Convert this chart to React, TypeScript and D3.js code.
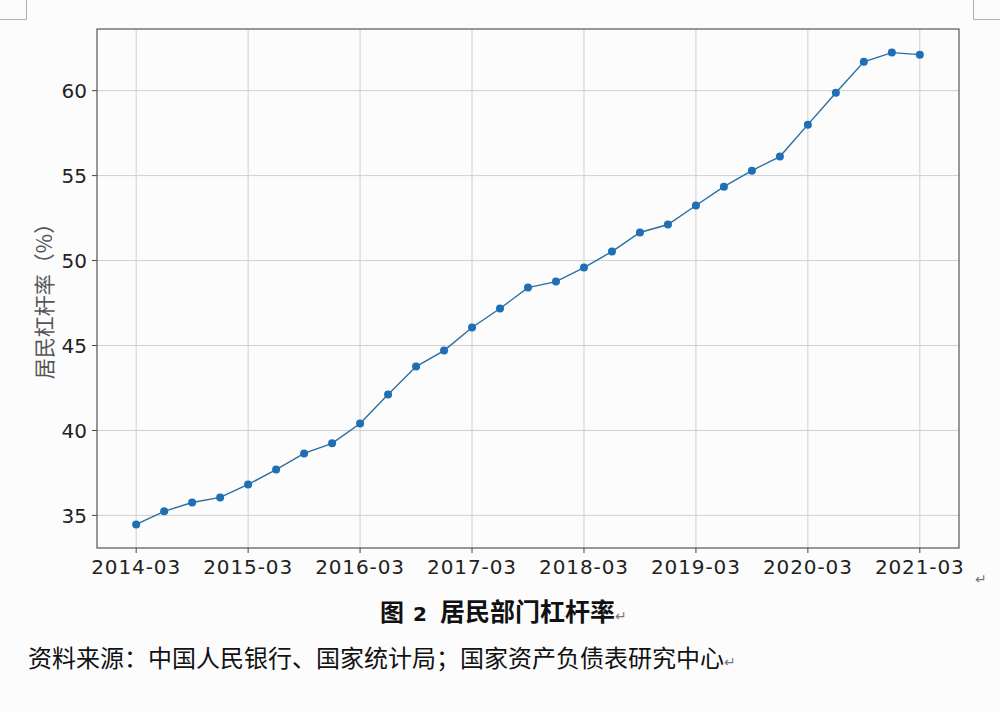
import React from "react";
import * as d3 from "d3";

const quarters = [
  "2014-03","2014-06","2014-09","2014-12",
  "2015-03","2015-06","2015-09","2015-12",
  "2016-03","2016-06","2016-09","2016-12",
  "2017-03","2017-06","2017-09","2017-12",
  "2018-03","2018-06","2018-09","2018-12",
  "2019-03","2019-06","2019-09","2019-12",
  "2020-03","2020-06","2020-09","2020-12",
  "2021-03",
];
const leverage = [
  34.47, 35.24, 35.76, 36.06,
  36.82, 37.7, 38.65, 39.24,
  40.41, 42.12, 43.76, 44.7,
  46.06, 47.18, 48.41, 48.76,
  49.59, 50.53, 51.65, 52.12,
  53.24, 54.35, 55.29, 56.12,
  58.0, 59.88, 61.7, 62.24,
  62.12,
];
const xTickLabels = ["2014-03","2015-03","2016-03","2017-03","2018-03","2019-03","2020-03","2021-03"];
const yTicks = [35, 40, 45, 50, 55, 60];
const yLabel = "居民杠杆率（%）";
const titlePrefix = "图";
const titleNum = "2";
const titleMain = "居民部门杠杆率";
const source = "资料来源：中国人民银行、国家统计局；国家资产负债表研究中心";

const W = 1000, H = 713;
const L = 97, R = 959, T = 29, B = 548;

export default function App() {
  const n = quarters.length;
  const pad = (n - 1) * 0.05;
  const x = d3.scaleLinear().domain([-pad, n - 1 + pad]).range([L, R]);
  const [mn, mx] = d3.extent(leverage) as [number, number];
  const yp = (mx - mn) * 0.05;
  const y = d3.scaleLinear().domain([mn - yp, mx + yp]).range([B, T]);
  const line = d3.line<number>().x((_, i) => x(i)).y((d) => y(d));
  const font = "'DejaVu Sans', sans-serif";
  const cjk = "'Noto Sans CJK SC', sans-serif";
  return (
    <svg width={W} height={H} style={{ position: "absolute", left: 0, top: 0, background: "#fcfcfd" }}>
      <rect x={0} y={0} width={W} height={H} fill="#fcfcfd" />
      {/* page corner marks */}
      <path d="M0,19.5 H26.5 V0" fill="none" stroke="#b0b0b0" strokeWidth={1} />
      <path d="M1000,19.5 H973.5 V0" fill="none" stroke="#b0b0b0" strokeWidth={1} />
      {/* grid */}
      {xTickLabels.map((t) => {
        const xi = x(quarters.indexOf(t));
        return <line key={t} x1={xi} x2={xi} y1={T} y2={B} stroke="#cfcfd4" strokeWidth={1} />;
      })}
      {yTicks.map((v) => (
        <line key={v} x1={L} x2={R} y1={y(v)} y2={y(v)} stroke="#cfcfd4" strokeWidth={1} />
      ))}
      {/* frame */}
      <rect x={L} y={T} width={R - L} height={B - T} fill="none" stroke="#555" strokeWidth={1.2} />
      {/* ticks */}
      {xTickLabels.map((t) => {
        const xi = x(quarters.indexOf(t));
        return (
          <g key={t}>
            <line x1={xi} x2={xi} y1={B} y2={B + 5} stroke="#444" />
            <text x={xi} y={B + 26} textAnchor="middle" fontFamily={font} fontSize={20} letterSpacing={0.9} fill="#222">{t}</text>
          </g>
        );
      })}
      {yTicks.map((v) => (
        <g key={v}>
          <line x1={L - 5} x2={L} y1={y(v)} y2={y(v)} stroke="#444" />
          <text x={L - 10} y={y(v)} dy="0.36em" textAnchor="end" fontFamily={font} fontSize={20} fill="#222">{v}</text>
        </g>
      ))}
      <text transform="translate(52,296) rotate(-90)" textAnchor="middle" fontFamily={cjk} fontSize={21} fill="#555">{yLabel}</text>
      {/* series */}
      <path d={line(leverage) || ""} fill="none" stroke="#2a6f9e" strokeWidth={1.4} />
      {leverage.map((v, i) => (
        <circle key={i} cx={x(i)} cy={y(v)} r={4} fill="#1f6fb4" />
      ))}
      {/* return marks */}
      <text x={975} y={584} fontFamily={font} fontSize={14} fill="#777">↵</text>
      <text x={380} y={621} fontFamily={cjk} fontSize={24} fontWeight="bold" fill="#111">{titlePrefix}</text>
      <text x={413} y={621} fontFamily={font} fontSize={20} fontWeight="bold" fill="#111">{titleNum}</text>
      <text x={440} y={621} fontFamily={cjk} fontSize={25} fontWeight="bold" fill="#111">{titleMain}<tspan fontSize={14} fontWeight="normal" fill="#777">↵</tspan></text>
      <text x={28} y={667} fontFamily={cjk} fontSize={24} fill="#111">{source}<tspan fontSize={14} fill="#777">↵</tspan></text>
    </svg>
  );
}
